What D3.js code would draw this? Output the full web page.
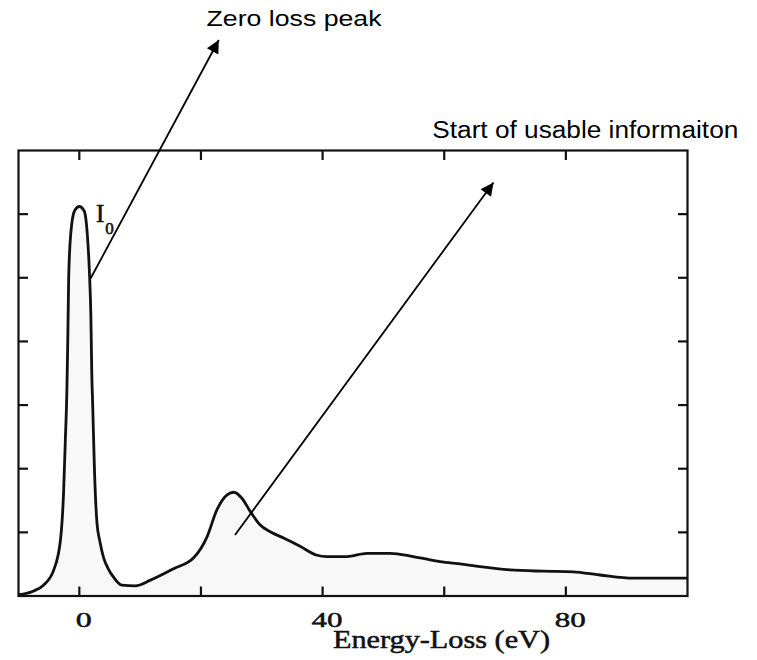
<!DOCTYPE html>
<html>
<head>
<meta charset="utf-8">
<script src="https://cdn.jsdelivr.net/npm/d3@7"></script>
<style>
  html, body { margin: 0; padding: 0; background: #fff; }
  svg { display: block; }
</style>
</head>
<body>
<svg id="chart" width="757" height="660"></svg>
<script>
// ---- data ----
const energy = [-10, -7.5, -5.9, -4.2, -3.1, -2.6, -2.3, -2.05, -1.9, -1.75, -1.4, -0.8, 0,
  0.8, 1.3, 1.7, 1.9, 2.05, 2.2, 2.5, 2.9, 3.4, 4.0, 4.8, 5.6, 7.0, 9.2, 11.7, 15.5, 18.8,
  21.0, 22.6, 24.3, 25.4, 26.7, 28.1, 29.7, 31.4, 33.6, 36.3, 39.1, 40.7, 44.0, 47.3, 51.1,
  54.9, 59.3, 62.9, 65.9, 70.8, 76.3, 81.2, 85.6, 91.1, 100];
const intensity = [0.02, 0.08, 0.17, 0.41, 0.88, 1.6, 2.45, 3.2, 4.0, 5.0, 5.7, 6.05, 6.12,
  6.05, 5.7, 5.0, 4.4, 3.5, 3.0, 1.95, 1.15, 0.85, 0.6, 0.42, 0.30, 0.17, 0.16, 0.25, 0.43, 0.6,
  0.93, 1.35, 1.59, 1.63, 1.54, 1.33, 1.12, 1.01, 0.91, 0.78, 0.64, 0.62, 0.62, 0.67, 0.67,
  0.62, 0.54, 0.5, 0.46, 0.41, 0.39, 0.38, 0.33, 0.28, 0.28];
const xTicks = [0, 20, 40, 60, 80];
const xTickLabels = ["0", "40", "80"];
const yTicks = [1, 2, 3, 4, 5, 6];
const xTitle = "Energy-Loss (eV)";
const peakLabel = "I";
const peakSub = "0";
const note1 = "Zero loss peak";
const note2 = "Start of usable informaiton";

// ---- layout ----
const svg = d3.select("#chart");
const pLeft = 18.5, pRight = 687.5, pTop = 150.5, pBottom = 596;
const x = d3.scaleLinear().domain([-10, 100]).range([pLeft, pRight]);
const y = d3.scaleLinear().domain([0, 7]).range([pBottom, pTop]);
const serif = "Liberation Serif, Times New Roman, serif";
const sans = "Liberation Sans, Arial, sans-serif";

const pts = energy.map((e, i) => [e, intensity[i]]);

// fill under curve
svg.append("path")
  .datum(pts)
  .attr("fill", "#f8f8f8")
  .attr("d", d3.area().x(d => x(d[0])).y0(y(0)).y1(d => y(d[1])).curve(d3.curveMonotoneX));

// curve
svg.append("path")
  .datum(pts)
  .attr("fill", "none")
  .attr("stroke", "#111")
  .attr("stroke-width", 2.8)
  .attr("stroke-linejoin", "round")
  .attr("d", d3.line().x(d => x(d[0])).y(d => y(d[1])).curve(d3.curveMonotoneX));

// frame
svg.append("rect")
  .attr("x", pLeft).attr("y", pTop)
  .attr("width", pRight - pLeft).attr("height", pBottom - pTop)
  .attr("fill", "none").attr("stroke", "#111").attr("stroke-width", 2.2);

const tickLen = 9.5;
const tk = svg.append("g").attr("stroke", "#111").attr("stroke-width", 2.2);
xTicks.forEach(v => {
  tk.append("line").attr("x1", x(v)).attr("x2", x(v)).attr("y1", pBottom).attr("y2", pBottom - tickLen);
  tk.append("line").attr("x1", x(v)).attr("x2", x(v)).attr("y1", pTop).attr("y2", pTop + tickLen);
});
yTicks.forEach(v => {
  tk.append("line").attr("x1", pLeft).attr("x2", pLeft + tickLen).attr("y1", y(v)).attr("y2", y(v));
  tk.append("line").attr("x1", pRight).attr("x2", pRight - tickLen).attr("y1", y(v)).attr("y2", y(v));
});

// tick labels (serif, horizontally stretched like the scan)
xTickLabels.forEach(lbl => {
  const cx = x(+lbl) + 4.5;
  const w = lbl.length === 1 ? 16 : 31;
  svg.append("text")
    .attr("x", cx - w / 2).attr("y", 627)
    .attr("font-family", serif).attr("font-size", 22)
    .attr("fill", "#111").attr("stroke", "#111").attr("stroke-width", 0.5)
    .attr("textLength", w).attr("lengthAdjust", "spacingAndGlyphs")
    .text(lbl);
});

// axis title
svg.append("text")
  .attr("x", 333).attr("y", 648)
  .attr("font-family", serif).attr("font-size", 25)
  .attr("fill", "#111").attr("stroke", "#111").attr("stroke-width", 0.5)
  .attr("textLength", 217).attr("lengthAdjust", "spacingAndGlyphs")
  .text(xTitle);

// I0 label
const pl = svg.append("text")
  .attr("x", 96).attr("y", 222)
  .attr("font-family", serif).attr("font-size", 25)
  .attr("fill", "#111").attr("stroke", "#111").attr("stroke-width", 0.6);
pl.append("tspan").text(peakLabel);
pl.append("tspan").attr("font-size", 17).attr("dy", 12).attr("dx", 1).text(peakSub);

// arrows
const defs = svg.append("defs");
defs.append("marker")
  .attr("id", "ah").attr("viewBox", "0 0 10 10")
  .attr("refX", 10).attr("refY", 5)
  .attr("markerUnits", "userSpaceOnUse")
  .attr("markerWidth", 17).attr("markerHeight", 13)
  .attr("orient", "auto")
  .append("path").attr("d", "M0,0 L10,5 L0,10 Z").attr("fill", "#000");

svg.append("line")
  .attr("x1", 90.7).attr("y1", 278.3).attr("x2", 218.8).attr("y2", 40)
  .attr("stroke", "#000").attr("stroke-width", 1.8).attr("marker-end", "url(#ah)");
svg.append("line")
  .attr("x1", 235).attr("y1", 535).attr("x2", 493.5).attr("y2", 182.5)
  .attr("stroke", "#000").attr("stroke-width", 1.8).attr("marker-end", "url(#ah)");

// annotations
svg.append("text")
  .attr("x", 206.5).attr("y", 26)
  .attr("font-family", sans).attr("font-size", 22).attr("fill", "#000")
  .attr("textLength", 175).attr("lengthAdjust", "spacingAndGlyphs")
  .text(note1);
svg.append("text")
  .attr("x", 432.3).attr("y", 138.3)
  .attr("font-family", sans).attr("font-size", 23).attr("fill", "#000")
  .attr("textLength", 306).attr("lengthAdjust", "spacingAndGlyphs")
  .text(note2);
</script>
</body>
</html>
